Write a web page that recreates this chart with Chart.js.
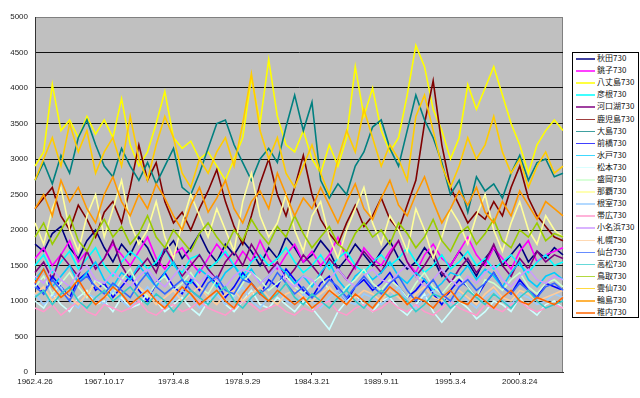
<!DOCTYPE html>
<html>
<head>
<meta charset="utf-8">
<script src="https://cdn.jsdelivr.net/npm/chart.js@4"></script>
<style>
  body { margin: 0; background: #fff; }
  #wrap { position: relative; width: 640px; height: 398px; }
  #legend {
    position: absolute; left: 572px; top: 52px; width: 65px; height: 264px;
    border: 1px solid #000; background: #fff;
    font-family: 'Noto Sans CJK JP', 'DejaVu Sans', sans-serif; font-size: 8px; color: #111;
  }
  #legend .row { position: absolute; left: 0; height: 12px; line-height: 12px; white-space: nowrap; }
  #legend .sw { position: absolute; left: 3px; top: 6px; width: 19px; height: 1.5px; opacity: 0.75; }
  #legend .tx { position: absolute; left: 24px; top: 0; }
</style>
</head>
<body>
<div id="wrap">
  <canvas id="chart" width="640" height="398"></canvas>
  <div id="legend"></div>
</div>
<script>
// ── Data (one value every 250 days from 1962.4.26) ──────────────────────

const stations = ['秋田730','銚子730','八丈島730','彦根730','河口湖730','鹿児島730','大島730','前橋730',
  '水戸730','松本730','盛岡730','那覇730','根室730','帯広730','小名浜730','札幌730',
  '仙台730','高松730','鳥取730','雲仙730','輪島730','稚内730'];

const tickLabels = ['1962.4.26','1967.10.17','1973.4.8','1978.9.29','1984.3.21','1989.9.11','1995.3.4','2000.8.24'];

const akita = [1800,1700,1950,2050,1750,1600,1850,2000,1750,1550,
  1800,1650,1900,1750,1500,1700,1850,1600,1750,1950,
  1700,1550,1800,1650,1850,1700,1500,1750,1600,1900,
  1750,1550,1650,1850,1700,1450,1600,1800,1650,1500,
  1700,1850,1600,1450,1550,1750,1600,1350,1500,1700,
  1550,1350,1600,1750,1500,1650,1800,1550,1700,1600,
  1750,1650];
const choshi = [1600,1750,1500,1650,1850,1550,1700,1450,1600,1800,
  1650,1500,1700,1900,1600,1450,1650,1750,1550,1400,
  1600,1800,1650,1500,1700,1550,1850,1600,1450,1650,
  1800,1550,1700,1500,1650,1900,1600,1450,1750,1600,
  1500,1700,1850,1550,1400,1650,1800,1600,1500,1700,
  1900,1650,1500,1750,1600,1450,1700,1850,1550,1650,
  1700,1750];
const hachijojima = [2900,3100,4050,3400,3550,3300,3600,3350,3550,3300,
  3850,3200,2900,3100,3500,3950,3300,3150,3250,3000,
  3100,2900,2700,3000,3300,4150,3500,4400,3600,3200,
  3100,3400,3000,2800,3200,2900,3300,4300,3600,4000,
  3400,3100,3300,3900,4600,4300,3700,3400,3000,3300,
  4050,3700,4000,4300,3900,3500,3200,2800,3200,3400,
  3550,3400];
const hikone = [1500,1650,1400,1550,1700,1450,1600,1750,1500,1350,
  1550,1700,1600,1450,1550,1750,1500,1400,1600,1650,
  1450,1550,1700,1500,1350,1550,1650,1500,1600,1750,
  1550,1400,1500,1650,1450,1600,1700,1500,1400,1550,
  1650,1500,1600,1750,1550,1400,1500,1650,1450,1550,
  1700,1500,1600,1450,1550,1650,1500,1400,1550,1650,
  1500,1550];
const kawaguchiko = [1400,1550,1300,1650,1500,1350,1700,1450,1600,1850,
  1500,1300,1450,1600,1400,1750,1550,1350,1500,1650,
  1450,1300,1550,1700,1500,1800,1600,1400,1550,1300,
  1450,1650,1500,1350,1600,1450,1300,1500,1700,1550,
  1400,1650,1850,1550,1350,1500,1700,1400,1250,1450,
  1600,1400,1550,1800,1500,1350,1600,1450,1700,1550,
  1650,1600];
const kagoshima = [2300,2450,2600,2200,2000,2350,2150,1900,2250,2400,
  2100,2600,3200,2700,2950,2400,2100,2250,2000,2300,
  2550,2850,2400,2050,1800,2200,2650,3000,2500,2200,
  2600,3050,2500,2150,1950,1800,2100,2350,2050,2200,
  2450,2150,2000,2350,2700,3500,4100,3200,2600,2350,
  2100,2250,2150,2400,2200,2600,2900,2450,2200,2050,
  1900,1850];
const oshima = [2700,2950,2650,3050,2800,3300,3550,3200,2900,2750,
  3150,2900,2700,2950,2650,2900,3150,2600,2500,2800,
  3150,3500,3550,3200,2950,2700,3000,3150,2950,3450,
  3900,3400,3800,2700,2450,2650,2500,2900,3100,3450,
  3550,3150,2900,3400,3900,3550,3300,2950,2500,2700,
  2250,2750,2550,2650,2450,2800,3050,2700,2950,3000,
  2750,2800];
const maebashi = [1250,1100,1350,1200,1050,1300,1400,1150,1250,1050,
  1200,1350,1150,1000,1250,1400,1200,1100,1300,1150,
  1350,1250,1050,1200,1400,1250,1100,1300,1200,1450,
  1300,1150,1050,1250,1350,1150,1000,1200,1300,1150,
  1250,1400,1200,1050,1150,1300,1100,950,1150,1300,
  1200,1050,1250,1400,1200,1100,1300,1150,1050,1250,
  1200,1150];
const mito = [1300,1450,1200,1350,1500,1250,1400,1550,1300,1200,
  1400,1300,1500,1350,1200,1400,1550,1300,1250,1450,
  1350,1200,1400,1500,1300,1450,1250,1350,1500,1400,
  1250,1350,1200,1400,1550,1300,1150,1350,1450,1300,
  1400,1550,1350,1250,1400,1300,1150,1250,1400,1350,
  1500,1300,1450,1350,1200,1400,1550,1300,1200,1350,
  1400,1300];
const matsumoto = [1000,900,1100,950,850,1050,1150,950,1000,850,
  1050,900,950,1100,1000,850,950,1050,900,800,
  1000,1100,950,850,1000,1150,950,900,1050,950,
  850,1000,900,750,600,850,1000,1100,950,850,
  1000,1050,900,800,950,1100,850,700,850,1000,
  900,750,850,1000,950,850,1050,900,800,950,
  1000,900];
const morioka = [1200,1350,1100,1250,1400,1200,1050,1300,1200,1100,
  1300,1450,1200,1050,1250,1350,1150,1250,1400,1200,
  1100,1300,1200,1050,1250,1400,1300,1150,1250,1350,
  1200,1100,1250,1350,1150,1050,1200,1300,1450,1250,
  1150,1300,1200,1050,1250,1400,1200,1100,1250,1350,
  1200,1050,1300,1250,1150,1300,1400,1200,1100,1250,
  1300,1200];
const naha = [2100,1800,2300,2600,2000,1700,2200,2500,1900,2300,
  2700,2100,1800,2000,2400,1900,1600,2100,2500,2200,
  1900,2300,2000,1700,2400,2800,2200,1900,2100,2500,
  2000,1700,2200,2400,1900,1600,2000,2300,2600,2100,
  1800,2200,2000,1700,2300,2000,1600,1900,2300,2100,
  1800,2200,2500,2000,1700,2100,2400,2000,1800,2200,
  2000,1900];
const nemuro = [1100,950,1050,1200,1000,900,1100,1050,950,1150,
  1000,900,1050,1200,1050,950,1000,1150,1050,900,
  1000,1100,950,1050,1200,1000,900,1050,1150,1000,
  950,1100,1000,900,1050,1150,1000,950,1100,1050,
  950,1050,1200,1000,900,1050,1150,1000,950,1100,
  1000,900,1050,1150,1000,950,1100,1050,950,1000,
  1100,1050];
const obihiro = [900,850,950,800,900,1000,850,800,950,900,
  850,900,1000,850,800,900,950,850,900,1000,
  900,850,800,900,1000,950,850,900,950,850,
  800,900,850,950,1000,850,800,900,950,850,
  900,1000,900,850,950,850,800,900,1000,900,
  850,800,950,900,850,950,1000,900,850,900,
  950,900];
const onahama = [1350,1250,1450,1300,1200,1400,1500,1300,1250,1400,
  1300,1200,1350,1450,1300,1200,1350,1500,1350,1250,
  1400,1300,1200,1350,1450,1400,1250,1350,1500,1300,
  1200,1350,1300,1150,1300,1450,1300,1200,1350,1450,
  1300,1250,1400,1500,1350,1200,1300,1450,1300,1200,
  1350,1250,1400,1500,1300,1200,1350,1450,1300,1250,
  1350,1300];
const sapporo = [1100,1200,1000,1150,1050,950,1100,1250,1100,1000,
  1150,1050,1200,1100,950,1050,1150,1000,1100,1200,
  1050,950,1100,1150,1000,1100,1200,1050,950,1100,
  1150,1050,1000,1100,1200,1050,950,1050,1150,1100,
  1000,1150,1050,950,1100,1200,1050,1000,1100,1150,
  1050,950,1100,1200,1050,1000,1150,1100,1000,1050,
  1100,1150];
const sendai = [1200,1100,1300,1150,1000,1250,1350,1200,1100,1250,
  1150,1050,1250,1400,1200,1100,1200,1300,1150,1050,
  1250,1350,1150,1100,1300,1250,1100,1200,1400,1250,
  1100,1200,1050,1150,1300,1200,1050,1200,1350,1200,
  1100,1250,1350,1150,1000,1150,1300,1100,1000,1200,
  1300,1150,1250,1400,1200,1100,1250,1150,1050,1200,
  1250,1150];
const takamatsu = [1050,1150,950,1100,1200,1000,900,1050,1150,1000,
  1100,1200,1050,950,1100,1000,850,1000,1150,1050,
  950,1100,1200,1000,900,1050,1150,1000,1100,1250,
  1050,950,1100,1000,900,1050,1150,1000,900,1050,
  1150,1050,1100,1000,850,950,1100,1050,900,1000,
  1150,1050,950,1100,1000,900,1050,1150,1000,900,
  950,1000];
const tottori = [1900,2100,1800,2000,2200,1850,1700,1950,2150,1900,
  2050,1800,1950,2200,1900,1750,2000,1850,1700,1950,
  2100,1900,1750,2000,1850,2150,1950,1800,2050,1900,
  2200,1950,1750,1900,2050,1800,1700,1950,2100,1900,
  2000,1800,2100,1950,1750,1900,2150,1850,1700,1950,
  2050,1800,1950,2150,1850,1750,2000,1900,2100,1850,
  1950,1900];
const unzen = [2700,3000,3300,2900,3500,3100,3400,2800,3100,3300,
  2900,3600,3000,2700,3200,3600,3300,2800,2600,3000,
  2800,3100,3300,2900,3500,4200,3400,3000,3300,2800,
  2600,2900,3200,2800,2500,3000,3400,3100,3700,3300,
  2900,3200,3000,2700,3600,3900,3400,2900,2600,2900,
  3300,3000,3200,3600,3100,2800,3000,2600,2900,3100,
  2800,2900];
const wajima = [2300,2500,2200,2700,2400,2600,2300,2100,2500,2750,
  2400,2200,2500,2300,2650,2450,2200,2000,2350,2600,
  2250,2450,2700,2300,2100,2400,2550,2300,2800,2500,
  2200,2450,2300,2600,2350,2100,2400,2650,2300,2150,
  2450,2700,2350,2200,2500,2750,2400,2100,2300,2550,
  2350,2600,2250,2100,2400,2200,2550,2350,2150,2400,
  2300,2200];
const wakkanai = [1250,1450,1200,1050,1150,1300,1100,950,1050,1200,
  1100,950,1050,1150,1000,900,1050,1200,1100,950,
  1050,1150,1000,900,1100,1250,1100,1000,1150,1050,
  950,1050,900,1000,1150,1050,950,1100,1000,900,
  1050,1200,1100,950,1050,1000,900,1050,1150,1000,
  950,1100,1000,900,1050,1150,1000,950,1050,1000,
  950,1050];

const seriesValues = [akita, choshi, hachijojima, hikone, kawaguchiko, kagoshima, oshima, maebashi,
  mito, matsumoto, morioka, naha, nemuro, obihiro, onahama, sapporo,
  sendai, takamatsu, tottori, unzen, wajima, wakkanai];

// Excel's default line series colours
const colors = ['#000080','#FF00FF','#FFFF00','#00FFFF','#800080','#800000','#008080','#0000FF',
  '#00CCFF','#CCFFFF','#CCFFCC','#FFFF99','#99CCFF','#FF99CC','#CC99FF','#FFCC99',
  '#3366FF','#33CCCC','#99CC00','#FFCC00','#FF9900','#FF6600'];

// ── Chart ────────────────────────────────────────────────────────────────

const STEP = 250;
const start = new Date(1962, 3, 26);
const labels = akita.map((_, i) => {
  const d = new Date(start.getTime() + i * STEP * 86400000);
  return d.getFullYear() + '.' + (d.getMonth() + 1) + '.' + d.getDate();
});

const plotBg = {
  id: 'plotBg',
  beforeDraw(chart) {
    const { ctx, chartArea: a } = chart;
    ctx.save();
    ctx.fillStyle = '#C0C0C0';
    ctx.fillRect(a.left, a.top, a.right - a.left, a.bottom - a.top);
    ctx.strokeStyle = '#808080';
    ctx.lineWidth = 1;
    ctx.strokeRect(a.left + 0.5, a.top + 0.5, a.right - a.left - 1, a.bottom - a.top);
    ctx.restore();
  }
};

const n = stations.length;
new Chart(document.getElementById('chart'), {
  type: 'line',
  data: {
    labels,
    datasets: stations.map((name, i) => ({
      label: name,
      data: seriesValues[i],
      borderColor: colors[i],
      borderWidth: 1.6,
      pointRadius: 0,
      tension: 0,
      fill: false,
      order: n - i,
    }))
  },
  options: {
    responsive: false,
    animation: false,
    layout: { padding: { left: 0, right: 77, top: 17, bottom: 0 } },
    plugins: { legend: { display: false }, tooltip: { enabled: false } },
    scales: {
      x: {
        offset: false,
        grid: { drawOnChartArea: false, drawTicks: true, tickLength: 3, color: '#333' },
        border: { color: '#333', width: 1 },
        ticks: {
          autoSkip: false, maxRotation: 0, padding: 2, color: '#222',
          font: { family: "'Liberation Sans', sans-serif", size: 8 },
          callback: (v, i) => (i % 8 === 0 ? tickLabels[i / 8] : null),
        },
        afterFit(s) { s.height = 26; },
      },
      y: {
        min: 0, max: 5000,
        grid: { drawTicks: false, color: ctx => (ctx.tick.value === 5000 ? '#808080' : '#111'), lineWidth: 1 },
        border: { color: '#333', width: 1 },
        ticks: {
          stepSize: 500, padding: 7, color: '#222',
          font: { family: "'Liberation Sans', sans-serif", size: 8 },
          callback: v => String(v),
        },
        afterFit(s) { s.width = 35; },
      }
    }
  },
  plugins: [plotBg]
});

// ── Legend box (HTML) ────────────────────────────────────────────────────
const legendEl = document.getElementById('legend');
stations.forEach((name, i) => {
  const row = document.createElement('div');
  row.className = 'row';
  row.style.top = (i * 12.1 - 1) + 'px';
  row.innerHTML = '<span class="sw" style="background:' + colors[i] + '"></span><span class="tx">' + name + '</span>';
  legendEl.appendChild(row);
});
</script>
</body>
</html>
